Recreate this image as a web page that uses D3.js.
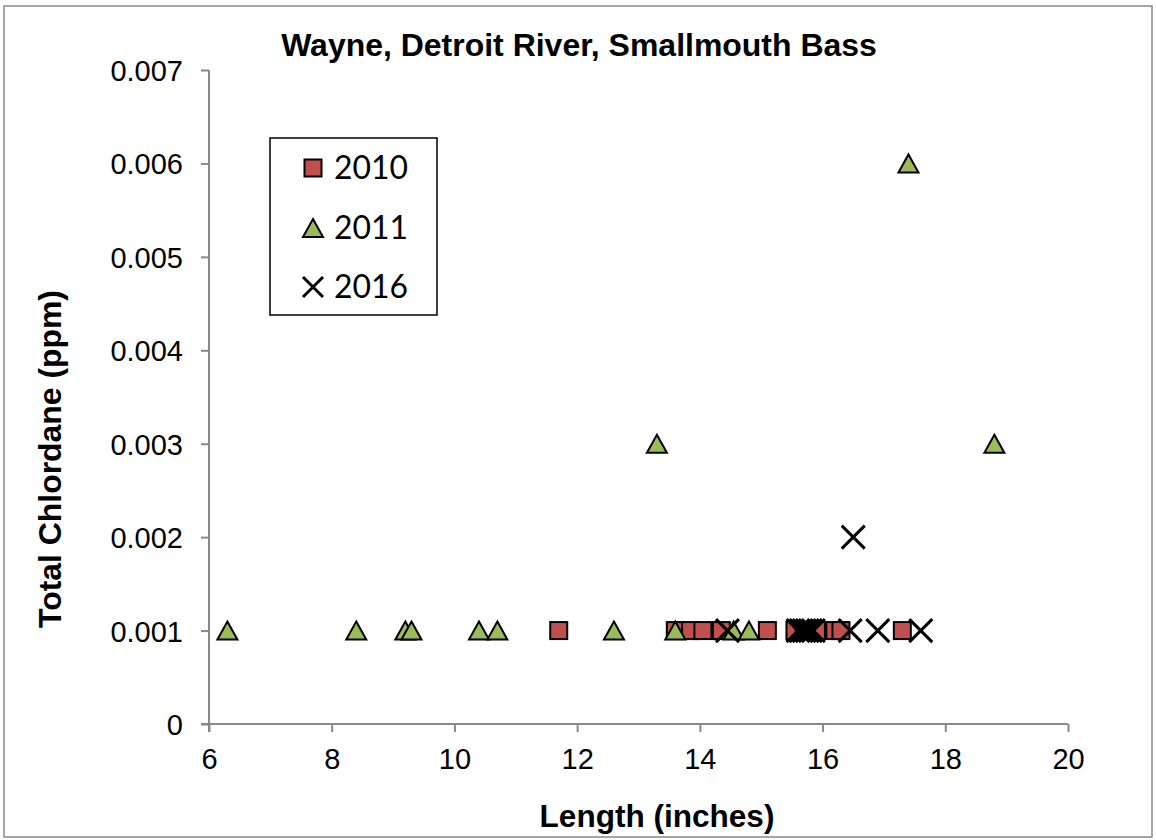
<!DOCTYPE html>
<html><head><meta charset="utf-8">
<script src="https://cdn.jsdelivr.net/npm/d3@7"></script>
<style>body{margin:0;background:#fff}</style>
</head><body>
<svg id="c" width="1156" height="840"></svg>
<script>
const xTicks = [6, 8, 10, 12, 14, 16, 18, 20];
const yTicks = [0, 0.001, 0.002, 0.003, 0.004, 0.005, 0.006, 0.007];
const yTickLabels = ["0", "0.001", "0.002", "0.003", "0.004", "0.005", "0.006", "0.007"];
const seriesNames = ["2010", "2011", "2016"];
const len2010 = [11.7, 13.6, 13.85, 14.05, 14.35, 15.1, 15.55, 15.7, 15.9, 16.2, 16.3, 17.3];
const chl2010 = [0.001, 0.001, 0.001, 0.001, 0.001, 0.001, 0.001, 0.001, 0.001, 0.001, 0.001, 0.001];
const len2011 = [6.3, 8.4, 9.2, 9.3, 10.4, 10.7, 12.6, 13.3, 13.6, 14.55, 14.8, 17.4, 18.8];
const chl2011 = [0.001, 0.001, 0.001, 0.001, 0.001, 0.001, 0.001, 0.003, 0.001, 0.001, 0.001, 0.006, 0.003];
const len2016 = [14.45, 15.6, 15.65, 15.7, 15.75, 15.8, 15.85, 16.45, 16.5, 16.9, 17.6];
const chl2016 = [0.001, 0.001, 0.001, 0.001, 0.001, 0.001, 0.001, 0.001, 0.002, 0.001, 0.001];

const svg = d3.select("#c");
const X0 = 209, X1 = 1068, Y0 = 724, Y1 = 70;
const x = d3.scaleLinear().domain([6, 20]).range([X0, X1]);
const y = d3.scaleLinear().domain([0, 0.007]).range([Y0, Y1]);
const axisCol = "#888888";

// outer border
svg.append("rect").attr("x", 4).attr("y", 6).attr("width", 1148).attr("height", 831)
  .attr("fill", "none").attr("stroke", axisCol).attr("stroke-width", 1.5);

// axes
const gx = svg.append("g").attr("transform", `translate(0,${Y0})`)
  .call(d3.axisBottom(x).tickValues(xTicks).tickSize(8).tickFormat(d3.format("d")));
const gy = svg.append("g").attr("transform", `translate(${X0},0)`)
  .call(d3.axisLeft(y).tickValues(yTicks).tickSize(8).tickFormat((d, i) => yTickLabels[i]));
[gx, gy].forEach(g => {
  g.select(".domain").remove();
  g.selectAll(".tick line").attr("stroke", axisCol).attr("stroke-width", 2);
  g.selectAll(".tick text").attr("fill", "#000")
    .style("font-family", "'Liberation Sans', Arial, sans-serif").style("font-size", "29px");
});
gx.selectAll(".tick text").attr("dy", null).attr("y", 45);
gy.selectAll(".tick text").attr("x", -26).attr("dy", "0.36em");
svg.append("line").attr("x1", X0 - 8).attr("x2", X1).attr("y1", Y0).attr("y2", Y0)
  .attr("stroke", axisCol).attr("stroke-width", 2);
svg.append("line").attr("x1", X0).attr("x2", X0).attr("y1", Y1).attr("y2", Y0 + 8)
  .attr("stroke", axisCol).attr("stroke-width", 2);

function fit(t, w) {
  const l = t.node().getComputedTextLength();
  const fs = parseFloat(t.style("font-size"));
  t.style("font-size", (fs * w / l) + "px");
}
const bold = "'Liberation Sans', Arial, sans-serif";
const title = svg.append("text").attr("x", 579).attr("y", 56).attr("text-anchor", "middle")
  .style("font-family", bold).style("font-weight", "bold").style("font-size", "24px")
  .text("Wayne, Detroit River, Smallmouth Bass");
fit(title, 596);
const xt = svg.append("text").attr("x", 657).attr("y", 827).attr("text-anchor", "middle")
  .style("font-family", bold).style("font-weight", "bold").style("font-size", "26px")
  .text("Length (inches)");
fit(xt, 235);
const yt = svg.append("text").attr("transform", "translate(61,459) rotate(-90)").attr("text-anchor", "middle")
  .style("font-family", bold).style("font-weight", "bold").style("font-size", "26px")
  .text("Total Chlordane (ppm)");
fit(yt, 338);

// markers
const sq = 8.5;
function square(g, cx, cy) {
  g.append("rect").attr("x", cx - sq).attr("y", cy - sq).attr("width", 2 * sq).attr("height", 2 * sq)
    .attr("fill", "#C0504D").attr("stroke", "#000").attr("stroke-width", 2);
}
function tri(g, cx, cy) {
  g.append("path").attr("d", `M${cx},${cy - 9}L${cx + 10},${cy + 9}L${cx - 10},${cy + 9}Z`)
    .attr("fill", "#9BBB59").attr("stroke", "#000").attr("stroke-width", 2).attr("stroke-linejoin", "miter");
}
function cross(g, cx, cy, h) {
  g.append("path").attr("d", `M${cx - h},${cy - h}L${cx + h},${cy + h}M${cx - h},${cy + h}L${cx + h},${cy - h}`)
    .attr("stroke", "#000").attr("stroke-width", 3).attr("fill", "none");
}
const pts = svg.append("g");
len2010.forEach((v, i) => square(pts, x(v), y(chl2010[i])));
len2011.forEach((v, i) => tri(pts, x(v), y(chl2011[i])));
len2016.forEach((v, i) => cross(pts, x(v), y(chl2016[i]), 11.5));

// legend
const lg = svg.append("g");
lg.append("rect").attr("x", 270).attr("y", 138).attr("width", 167).attr("height", 177)
  .attr("fill", "#fff").attr("stroke", "#000").attr("stroke-width", 1.5);
const ly = [168, 228, 287];
square(lg, 313, ly[0]);
tri(lg, 313, ly[1]);
cross(lg, 313, ly[2], 10);
seriesNames.forEach((n, i) => {
  const t = lg.append("text").attr("x", 334).attr("y", ly[i]).attr("dy", "0.36em")
    .style("font-family", "Lato, 'Open Sans', sans-serif").style("font-size", "31px").text(n);
  fit(t, 74);
});
</script>
</body></html>
